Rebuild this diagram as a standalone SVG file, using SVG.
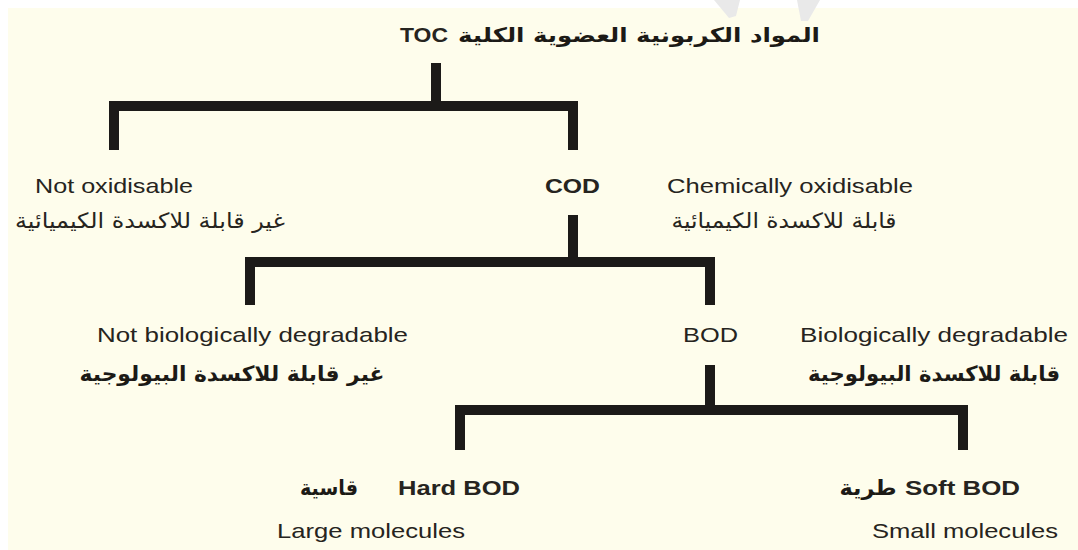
<svg xmlns="http://www.w3.org/2000/svg" width="1078" height="550" viewBox="0 0 1078 550">
<style>
.en{font-family:"Liberation Sans",Arial,sans-serif;font-size:21px;fill:#262420}
.b{font-weight:bold}
.ar{font-family:"DejaVu Sans",sans-serif;font-size:21px;fill:#262420}
.arb{font-family:"DejaVu Sans",sans-serif;font-size:21px;font-weight:bold;fill:#1c1a16}
.ln{fill:none;stroke:#1c1a18;stroke-width:10;stroke-linecap:butt;stroke-linejoin:miter}
</style>
<rect x="0" y="0" width="1078" height="550" fill="#ffffff"/>
<rect x="8" y="8" width="1070" height="542" fill="#fefdec"/>
<g id="watermark" fill="#e9e9e9">
<polygon points="714,0 740,0 736,16 729,18"/>
<polygon points="797,0 820,0 808,21 801,21"/>
</g>
<g id="connectors">
<path class="ln" d="M436 63 V106"/>
<path class="ln" d="M114 150 V106 H573 V150"/>
<path class="ln" d="M573 215 V262"/>
<path class="ln" d="M250 305 V262 H710 V305"/>
<path class="ln" d="M710 365 V410"/>
<path class="ln" d="M460 450 V410 H963 V450"/>
</g>
<g id="toc">
<text class="en b" x="400" y="42" textLength="48" lengthAdjust="spacingAndGlyphs">TOC</text>
<text class="arb" x="639" y="42" text-anchor="middle" style="font-size:20px" textLength="362" lengthAdjust="spacingAndGlyphs">المواد الكربونية  العضوية الكلية</text>
</g>
<g id="not-oxidisable">
<text class="en" x="35" y="193" textLength="158" lengthAdjust="spacingAndGlyphs">Not oxidisable</text>
<text class="ar" x="150" y="228" text-anchor="middle" textLength="270" lengthAdjust="spacingAndGlyphs">غير قابلة للاكسدة الكيميائية</text>
</g>
<g id="cod">
<text class="en b" x="545" y="193" textLength="55" lengthAdjust="spacingAndGlyphs">COD</text>
</g>
<g id="chem-oxidisable">
<text class="en" x="667" y="193" textLength="246" lengthAdjust="spacingAndGlyphs">Chemically oxidisable</text>
<text class="ar" x="784" y="228" text-anchor="middle" textLength="225" lengthAdjust="spacingAndGlyphs">قابلة للاكسدة الكيميائية</text>
</g>
<g id="not-bio">
<text class="en" x="97" y="342" textLength="311" lengthAdjust="spacingAndGlyphs">Not biologically degradable</text>
<text class="arb" x="232" y="381" text-anchor="middle" textLength="305" lengthAdjust="spacingAndGlyphs">غير قابلة للاكسدة البيولوجية</text>
</g>
<g id="bod">
<text class="en" x="683" y="342" textLength="55" lengthAdjust="spacingAndGlyphs">BOD</text>
</g>
<g id="bio">
<text class="en" x="800" y="342" textLength="268" lengthAdjust="spacingAndGlyphs">Biologically degradable</text>
<text class="arb" x="934" y="381" text-anchor="middle" textLength="252" lengthAdjust="spacingAndGlyphs">قابلة للاكسدة البيولوجية</text>
</g>
<g id="hard-bod">
<text class="arb" x="329" y="495" text-anchor="middle" textLength="58" lengthAdjust="spacingAndGlyphs">قاسية</text>
<text class="en b" x="398" y="495" textLength="122" lengthAdjust="spacingAndGlyphs">Hard BOD</text>
<text class="en" x="277" y="538" textLength="188" lengthAdjust="spacingAndGlyphs">Large molecules</text>
</g>
<g id="soft-bod">
<text class="arb" x="868" y="495" text-anchor="middle" textLength="57" lengthAdjust="spacingAndGlyphs">طرية</text>
<text class="en b" x="905" y="495" textLength="115" lengthAdjust="spacingAndGlyphs">Soft BOD</text>
<text class="en" x="872" y="538" textLength="186" lengthAdjust="spacingAndGlyphs">Small molecules</text>
</g>
</svg>
